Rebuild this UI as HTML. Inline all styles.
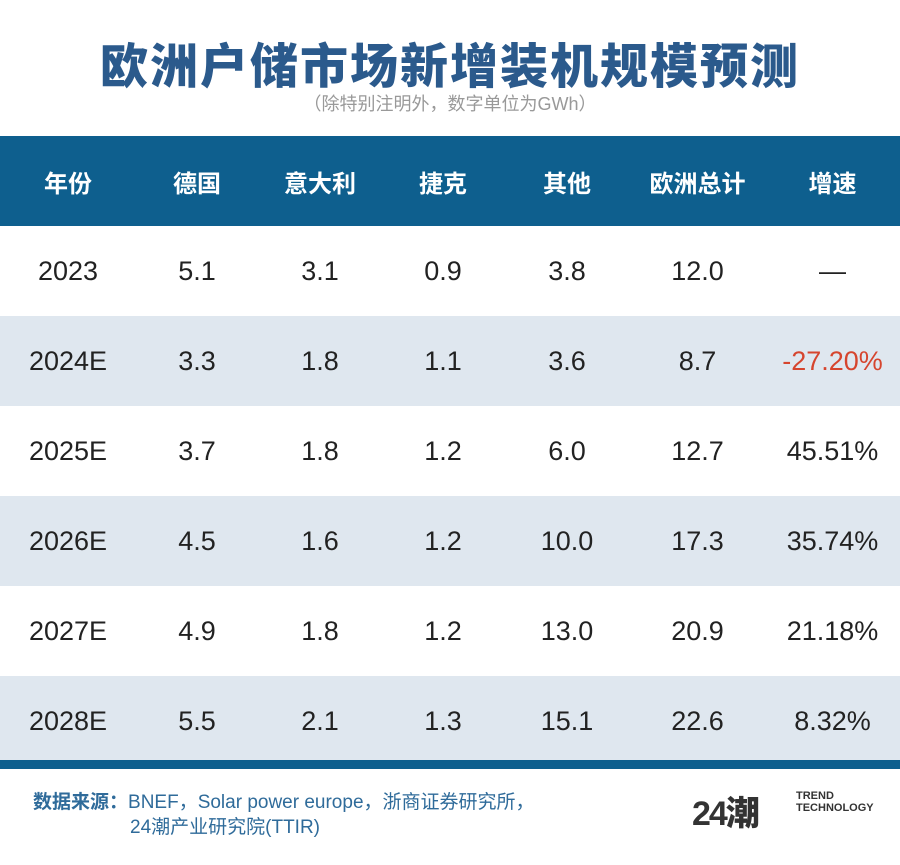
<!DOCTYPE html><html><head><meta charset="utf-8"><style>
body{margin:0;width:900px;height:865px;background:#fff;font-family:"Liberation Sans","Noto Sans CJK SC",sans-serif;position:relative;overflow:hidden}
.t{position:absolute;left:0;width:900px;text-align:center}
table{position:absolute;left:0;top:136px;width:900px;border-collapse:collapse}
td,th{text-align:center;padding:0}
th{background:#0e5f8e;color:#fff;height:90px;font-size:24px;font-weight:bold}
td{height:90px;font-size:27px;color:#222}
tr.b td{background:#dfe7ef}
.bar{position:absolute;left:0;top:760px;width:900px;height:9px;background:#0e5f8e}
</style></head><body>
<div class="t" style="top:27px;font-size:48px;font-weight:900;color:#2b5a8c;letter-spacing:2px">欧洲户储市场新增装机规模预测</div>
<div class="t" style="top:90px;font-size:18px;color:#999">（除特别注明外，数字单位为GWh）</div>
<table>
<colgroup><col style="width:136px"><col style="width:122px"><col style="width:124px"><col style="width:122px"><col style="width:126px"><col style="width:135px"><col></colgroup>
<tr><th>年份</th><th>德国</th><th>意大利</th><th>捷克</th><th>其他</th><th>欧洲总计</th><th>增速</th></tr>
<tr><td>2023</td><td>5.1</td><td>3.1</td><td>0.9</td><td>3.8</td><td>12.0</td><td>—</td></tr>
<tr class="b"><td>2024E</td><td>3.3</td><td>1.8</td><td>1.1</td><td>3.6</td><td>8.7</td><td style="color:#d6452e">-27.20%</td></tr>
<tr><td>2025E</td><td>3.7</td><td>1.8</td><td>1.2</td><td>6.0</td><td>12.7</td><td>45.51%</td></tr>
<tr class="b"><td>2026E</td><td>4.5</td><td>1.6</td><td>1.2</td><td>10.0</td><td>17.3</td><td>35.74%</td></tr>
<tr><td>2027E</td><td>4.9</td><td>1.8</td><td>1.2</td><td>13.0</td><td>20.9</td><td>21.18%</td></tr>
<tr class="b"><td style="height:84px">2028E</td><td>5.5</td><td>2.1</td><td>1.3</td><td>15.1</td><td>22.6</td><td>8.32%</td></tr>
</table>
<div class="bar"></div>
<div style="position:absolute;left:33px;top:790px;font-size:19px;color:#2f6b9a;line-height:25px"><b>数据来源：</b>BNEF，Solar power europe，浙商证券研究所，<br><span style="padding-left:97px">24潮产业研究院(TTIR)</span></div>
<div style="position:absolute;left:692px;top:786px;font-size:34px;font-weight:900;color:#333;letter-spacing:-2px">24潮</div>
<div style="position:absolute;left:796px;top:790px;font-size:11px;font-weight:bold;color:#333;line-height:12px">TREND<br>TECHNOLOGY</div>
</body></html>
